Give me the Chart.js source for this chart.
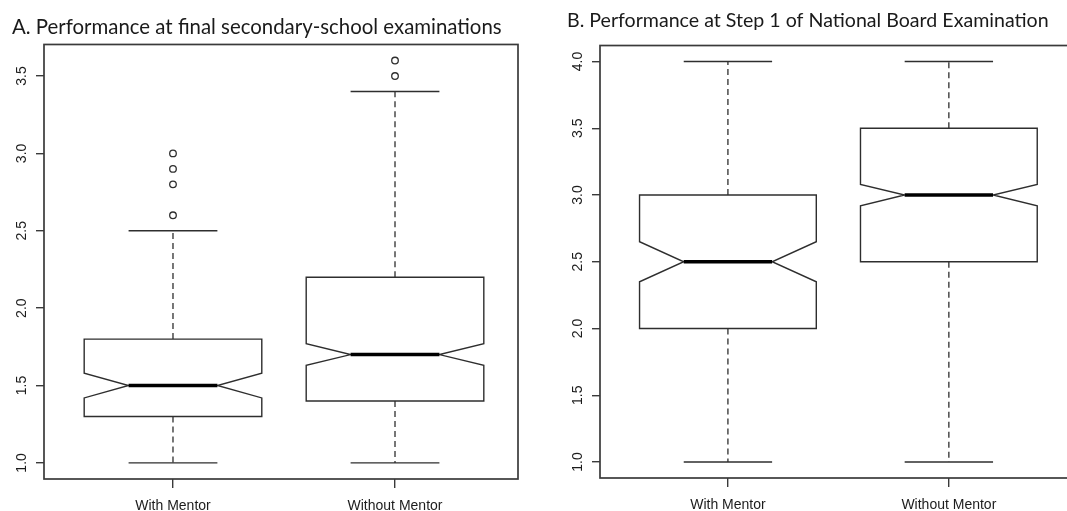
<!DOCTYPE html>
<html>
<head>
<meta charset="utf-8">
<script src="https://cdn.jsdelivr.net/npm/chart.js@4.4.1/dist/chart.umd.min.js"></script>
<style>
  html, body { margin: 0; padding: 0; background: #fff; overflow: hidden; }
  #wrap { position: relative; width: 1067px; height: 511px; overflow: hidden; }
  canvas { position: absolute; top: 0; }
  #chartA { left: 0; }
  #chartB { left: 555px; }
</style>
</head>
<body>
<div id="wrap">
  <canvas id="chartA" width="530" height="511"></canvas>
  <canvas id="chartB" width="522" height="511"></canvas>
</div>
<script>
const categories = ['With Mentor', 'Without Mentor'];

// A. final secondary-school examinations
const lowA = [1.0, 1.0];
const q1A = [1.3, 1.4];
const medianA = [1.5, 1.7];
const q3A = [1.8, 2.2];
const highA = [2.5, 3.4];
const notchLowA = [1.42, 1.63];
const notchHighA = [1.58, 1.77];
const outliersA = [[2.6, 2.8, 2.9, 3.0], [3.5, 3.6]];
const yTicksA = [1.0, 1.5, 2.0, 2.5, 3.0, 3.5];

// B. Step 1 of National Board Examination
const lowB = [1.0, 1.0];
const q1B = [2.0, 2.5];
const medianB = [2.5, 3.0];
const q3B = [3.0, 3.5];
const highB = [4.0, 4.0];
const notchLowB = [2.35, 2.92];
const notchHighB = [2.65, 3.08];
const outliersB = [[], []];
const yTicksB = [1.0, 1.5, 2.0, 2.5, 3.0, 3.5, 4.0];

const xTicks = [1, 2];
const ink = '#2e2e2e';
const labelFont = '14px "Liberation Sans", Arial, sans-serif';

function line(ctx, x1, y1, x2, y2) {
    ctx.beginPath();
    ctx.moveTo(x1, y1);
    ctx.lineTo(x2, y2);
    ctx.stroke();
}

// R-style notched boxes, drawn through the chart's own scales
function boxPlugin(stats) {
    return {
        id: 'notchedBoxes',
        beforeDatasetsDraw(chart) {
            const { ctx, scales: { x, y } } = chart;
            ctx.save();
            categories.forEach((cat, i) => {
                const c = xTicks[i];
                const left = x.getPixelForValue(c - 0.4);
                const right = x.getPixelForValue(c + 0.4);
                const inL = x.getPixelForValue(c - 0.2);
                const inR = x.getPixelForValue(c + 0.2);
                const mid = x.getPixelForValue(c);
                const yLow = y.getPixelForValue(stats.low[i]);
                const yQ1 = y.getPixelForValue(stats.q1[i]);
                const yMed = y.getPixelForValue(stats.median[i]);
                const yQ3 = y.getPixelForValue(stats.q3[i]);
                const yHigh = y.getPixelForValue(stats.high[i]);
                const yNl = y.getPixelForValue(stats.notchLow[i]);
                const yNh = y.getPixelForValue(stats.notchHigh[i]);

                ctx.strokeStyle = ink;
                ctx.lineWidth = 1.3;
                ctx.setLineDash([6, 4]);
                line(ctx, mid, yQ3, mid, yHigh);
                line(ctx, mid, yQ1, mid, yLow);
                ctx.setLineDash([]);
                ctx.lineWidth = 1.4;
                line(ctx, inL, yHigh, inR, yHigh);
                line(ctx, inL, yLow, inR, yLow);

                ctx.beginPath();
                ctx.moveTo(left, yQ1);
                ctx.lineTo(left, yNl);
                ctx.lineTo(inL, yMed);
                ctx.lineTo(left, yNh);
                ctx.lineTo(left, yQ3);
                ctx.lineTo(right, yQ3);
                ctx.lineTo(right, yNh);
                ctx.lineTo(inR, yMed);
                ctx.lineTo(right, yNl);
                ctx.lineTo(right, yQ1);
                ctx.closePath();
                ctx.stroke();

                ctx.strokeStyle = '#000';
                ctx.lineWidth = 3.5;
                line(ctx, inL, yMed, inR, yMed);
            });
            ctx.restore();
        },
        afterDraw(chart) {
            const { ctx, chartArea, scales: { x, y } } = chart;
            ctx.save();
            ctx.strokeStyle = '#3a3a3a';
            ctx.lineWidth = 1.7;
            ctx.strokeRect(chartArea.left, chartArea.top, chartArea.right - chartArea.left, chartArea.bottom - chartArea.top);

            ctx.fillStyle = '#1c1c1c';
            ctx.font = labelFont;
            ctx.textAlign = 'center';
            ctx.textBaseline = 'alphabetic';
            categories.forEach((cat, i) => {
                ctx.fillText(cat, x.getPixelForValue(xTicks[i]), chartArea.bottom + 31);
            });
            stats.ticks.forEach(v => {
                ctx.save();
                ctx.translate(chartArea.left - 18, y.getPixelForValue(v));
                ctx.rotate(-Math.PI / 2);
                ctx.fillText(v.toFixed(1), 0, 0);
                ctx.restore();
            });
            ctx.restore();
        }
    };
}

function outlierPoints(outliers) {
    const pts = [];
    outliers.forEach((list, i) => list.forEach(v => pts.push({ x: xTicks[i], y: v })));
    return pts;
}

function makeChart(id, opts) {
    const ctx = document.getElementById(id).getContext('2d');
    return new Chart(ctx, {
        type: 'scatter',
        data: {
            datasets: [{
                data: outlierPoints(opts.outliers),
                pointStyle: 'circle',
                pointRadius: 3.3,
                pointBorderWidth: 1.3,
                borderColor: ink,
                backgroundColor: 'rgba(0,0,0,0)'
            }]
        },
        options: {
            responsive: false,
            animation: false,
            layout: { padding: opts.padding },
            plugins: {
                legend: { display: false },
                tooltip: { enabled: false },
                title: {
                    display: true,
                    text: opts.title,
                    align: 'start',
                    color: '#1a1a1a',
                    font: { family: 'Lato', size: opts.titleSize, weight: 'normal' },
                    padding: opts.titlePadding
                }
            },
            scales: {
                x: {
                    type: 'linear',
                    min: opts.xMin,
                    max: opts.xMax,
                    afterBuildTicks: s => { s.ticks = xTicks.map(v => ({ value: v })); },
                    afterFit: s => { s.height = opts.xAxisHeight; },
                    ticks: { display: false },
                    border: { display: false },
                    grid: { drawOnChartArea: false, tickLength: 9, color: '#3a3a3a', lineWidth: 1.4 }
                },
                y: {
                    min: opts.yMin,
                    max: opts.yMax,
                    afterBuildTicks: s => { s.ticks = opts.stats.ticks.map(v => ({ value: v })); },
                    afterFit: s => { s.width = opts.yAxisWidth; },
                    ticks: { display: false },
                    border: { display: false },
                    grid: { drawOnChartArea: false, tickLength: 8, color: '#3a3a3a', lineWidth: 1.4 }
                }
            }
        },
        plugins: [boxPlugin(opts.stats)]
    });
}

makeChart('chartA', {
    title: 'A. Performance at final secondary-school examinations',
    titleSize: 20.4,
    outliers: outliersA,
    stats: { low: lowA, q1: q1A, median: medianA, q3: q3A, high: highA, notchLow: notchLowA, notchHigh: notchHighA, ticks: yTicksA },
    xMin: 0.419, xMax: 2.554,
    yMin: 0.896, yMax: 3.704,
    padding: { left: 12, right: 12, top: 0, bottom: 0 },
    titlePadding: { top: 15, bottom: 5 },
    yAxisWidth: 32,
    xAxisHeight: 32
});

makeChart('chartB', {
    title: 'B. Performance at Step 1 of National Board Examination',
    titleSize: 19.6,
    outliers: outliersB,
    stats: { low: lowB, q1: q1B, median: medianB, q3: q3B, high: highB, notchLow: notchLowB, notchHigh: notchHighB, ticks: yTicksB },
    xMin: 0.421, xMax: 2.58,
    yMin: 0.88, yMax: 4.12,
    padding: { left: 12, right: 0, top: 0, bottom: 0 },
    titlePadding: { top: 9, bottom: 13 },
    yAxisWidth: 33,
    xAxisHeight: 33
});
</script>
</body>
</html>
